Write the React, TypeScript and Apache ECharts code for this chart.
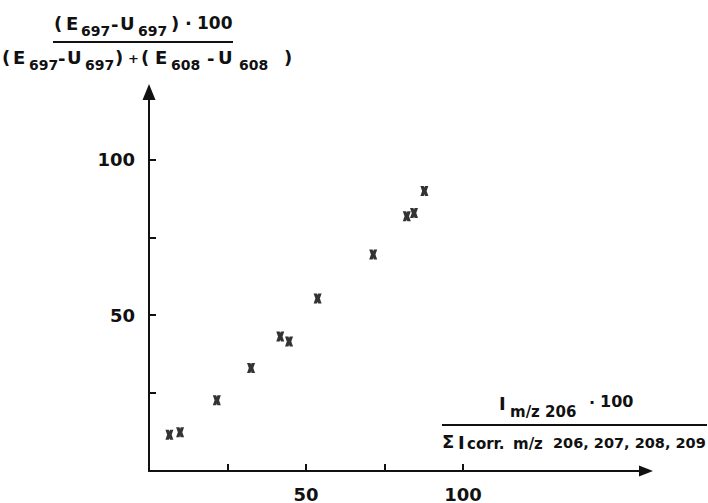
import React, { useEffect, useRef } from "react";
import * as echarts from "echarts";

// Data (x: I m/z206 share %, y: (E697-U697) share %)
const xValues = [6.5, 9.9, 21.6, 32.5, 41.8, 44.6, 53.7, 71.4, 82.1, 84.4, 87.7];
const yValues = [11.6, 12.4, 22.7, 33.1, 43.2, 41.6, 55.4, 69.5, 81.8, 82.8, 89.9];

const xTickValues = [25, 50, 75, 100];
const xLabelValues = [50, 100];
const yTickValues = [25, 50, 75, 100];
const yLabelValues = [50, 100];

const FONT = "DejaVu Sans";
const INK = "#111";

type Piece = [string, number, number, number];

// y-axis title pieces: text, left x, center y, font size
const yTitleTop: Piece[] = [
  ["(", 54, 23, 18],
  ["E", 66, 23, 18],
  ["697", 81, 31, 14],
  ["-", 111, 24, 18],
  ["U", 120, 23, 18],
  ["697", 138, 31, 14],
  [")", 171, 23, 18],
  ["·", 185, 23, 18],
  ["100", 197, 23, 17],
];
const yTitleBottom: Piece[] = [
  ["(", 2, 57, 18],
  ["E", 13, 57, 18],
  ["697", 29, 65, 14],
  ["-", 58, 58, 18],
  ["U", 67, 57, 18],
  ["697", 85, 65, 14],
  [")", 115, 57, 18],
  ["+", 128, 58, 13],
  ["(", 141, 57, 18],
  ["E", 155, 57, 18],
  ["608", 171, 65, 14],
  ["-", 207, 58, 18],
  ["U", 218, 57, 18],
  ["608", 239, 65, 14],
  [")", 284, 57, 18],
];
const xTitleTop: Piece[] = [
  ["I", 499, 403, 18],
  ["m/z 206", 510, 412, 15],
  ["·", 589, 402, 16],
  ["100", 600, 401, 16],
];
const xTitleBottom: Piece[] = [
  ["Σ", 442, 441, 18],
  ["I", 458, 442, 18],
  ["corr.", 467, 444, 15],
  ["m/z", 513, 444, 15],
  ["206, 207, 208, 209", 553, 443, 14.5],
];

function pieces(list: Piece[]) {
  return list.map(([text, x, y, size]) => ({
    type: "text",
    x,
    y,
    silent: true,
    style: {
      text,
      fill: INK,
      fontSize: size,
      fontFamily: FONT,
      fontWeight: "bold",
      align: "left",
      verticalAlign: "middle",
    },
  }));
}

export default function App() {
  const ref = useRef<HTMLDivElement>(null);
  useEffect(() => {
    if (!ref.current) return;
    const chart = echarts.init(ref.current, null, { renderer: "svg" });
    const pxPerUnit = 3.14;
    const gridLeft = 149;
    const gridTop = 92;
    const gridW = 497;
    const gridH = 382;
    chart.setOption({
      animation: false,
      backgroundColor: "#fff",
      grid: { left: gridLeft, top: gridTop, width: gridW, height: gridH, containLabel: false },
      xAxis: {
        type: "value",
        min: 0,
        max: gridW / pxPerUnit,
        splitLine: { show: false },
        axisLine: {
          show: true,
          lineStyle: { color: INK, width: 2 },
          symbol: ["none", "triangle"],
          symbolSize: [11, 14],
        },
        axisTick: {
          show: true,
          inside: true,
          length: 7,
          customValues: xTickValues,
          lineStyle: { color: INK, width: 2 },
        },
        axisLabel: {
          customValues: xLabelValues,
          fontSize: 18,
          fontWeight: "bold",
          fontFamily: FONT,
          color: INK,
          margin: 14,
        },
      },
      yAxis: {
        type: "value",
        min: 0,
        max: gridH / pxPerUnit,
        splitLine: { show: false },
        axisLine: {
          show: true,
          lineStyle: { color: INK, width: 2 },
          symbol: ["none", "triangle"],
          symbolSize: [13, 16],
        },
        axisTick: {
          show: true,
          inside: true,
          length: 7,
          customValues: yTickValues,
          lineStyle: { color: INK, width: 2 },
        },
        axisLabel: {
          customValues: yLabelValues,
          fontSize: 18,
          fontWeight: "bold",
          fontFamily: FONT,
          color: INK,
          margin: 14,
        },
      },
      series: [
        {
          type: "scatter",
          data: xValues.map((x, i) => [x, yValues[i]]),
          symbol:
            "path://M0,0 L4.3,0 L5,2 L5.7,0 L10,0 L7.8,6 L10,12 L5.7,12 L5,10 L4.3,12 L0,12 L2.2,6 Z",
          symbolSize: [8, 10],
          itemStyle: { color: "#000" },
        },
      ],
      graphic: [
        ...pieces(yTitleTop),
        { type: "line", silent: true, shape: { x1: 53, y1: 42, x2: 233, y2: 42 }, style: { stroke: INK, lineWidth: 2 } },
        ...pieces(yTitleBottom),
        ...pieces(xTitleTop),
        { type: "line", silent: true, shape: { x1: 442, y1: 425, x2: 707, y2: 425 }, style: { stroke: INK, lineWidth: 2 } },
        ...pieces(xTitleBottom),
      ],
    });
    return () => chart.dispose();
  }, []);
  return (
    <div
      ref={ref}
      style={{ position: "fixed", left: 0, top: 0, width: 708, height: 503 }}
    />
  );
}
